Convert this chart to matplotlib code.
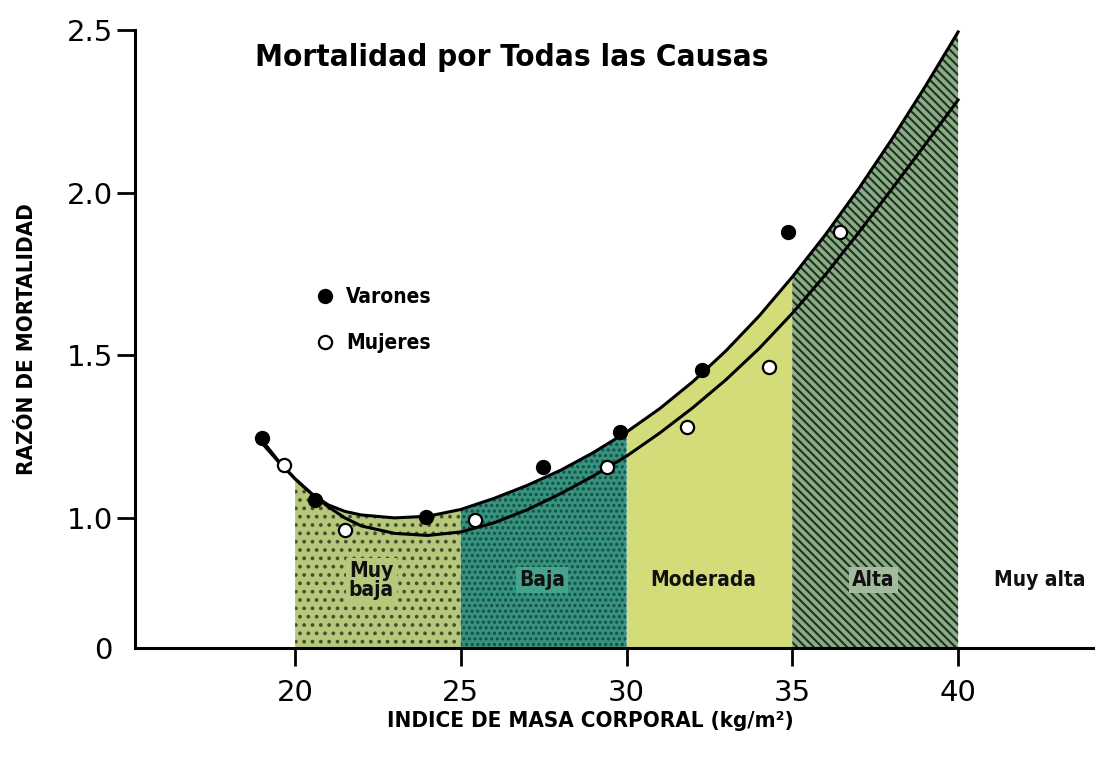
import numpy as np
import matplotlib
matplotlib.use("Agg")
import matplotlib.pyplot as plt

plt.rcParams['font.family'] = ['Liberation Sans Narrow', 'DejaVu Sans']
plt.rcParams['font.stretch'] = 'condensed'
plt.rcParams['hatch.linewidth'] = 1.5

# puntos observados
varones_x = [19.0, 20.6, 23.95, 27.48, 29.8, 32.27, 34.88]
varones_y = [1.245, 1.055, 1.004, 1.157, 1.265, 1.456, 1.878]
mujeres_x = [19.65, 21.5, 25.43, 29.4, 31.82, 34.3, 36.44]
mujeres_y = [1.163, 0.908, 0.985, 1.156, 1.28, 1.463, 1.878]

# curvas ajustadas
curva_x = [19.0, 19.5, 20, 20.5, 21, 21.5, 22, 23, 24, 25, 26, 27, 28, 29, 30,
           31, 32, 33, 34, 35, 36, 37, 38, 39, 40]
curva_varones = [1.239, 1.175, 1.120, 1.074, 1.040, 1.020, 1.009, 1.000, 1.005,
                 1.026, 1.060, 1.100, 1.146, 1.201, 1.264, 1.336, 1.419, 1.514,
                 1.621, 1.741, 1.871, 2.012, 2.164, 2.325, 2.494]
curva_mujeres = [1.230, 1.172, 1.120, 1.074, 1.034, 1.000, 0.938, 0.881, 0.865,
                 0.892, 0.962, 1.025, 1.074, 1.129, 1.190, 1.261, 1.339, 1.425,
                 1.521, 1.629, 1.748, 1.877, 2.011, 2.147, 2.285]

# zonas de riesgo
zonas_lim = [20, 25, 30, 35, 40]
zonas_col = ['#b7c87c', '#36937f', '#d3dc79', '#8eab86']
zonas_hatch = ['..', '...', None, '\\\\\\\\']
zonas_hcol = ['#44522c', '#154f45', '#d3dc79', '#1a3323']
zonas_box = ['#b7c87c', '#45a38e', None, '#a3bb9c']
etiq_x = [22.3, 27.45, 32.3, 37.45, 42.45]
etiq_txt = ['Muy\nbaja', 'Baja', 'Moderada', 'Alta', 'Muy alta']


def fwd(y):
    y = np.asarray(y, dtype=float)
    return np.where(y < 1, 0.4 * y, y - 0.6)


def inv(f):
    f = np.asarray(f, dtype=float)
    return np.where(f < 0.4, f / 0.4, f + 0.6)


fig = plt.figure(figsize=(10.95, 7.59), dpi=100)
ax = fig.add_axes([135 / 1095, 1 - 648 / 759, 960 / 1095, 618 / 759])
ax.set_yscale('function', functions=(fwd, inv))

cx = np.array(curva_x)
cv = np.array(curva_varones)
for i in range(4):
    m = (cx >= zonas_lim[i]) & (cx <= zonas_lim[i + 1])
    ax.fill_between(cx[m], 0, cv[m], facecolor=zonas_col[i],
                    edgecolor=zonas_hcol[i], hatch=zonas_hatch[i],
                    linewidth=0, zorder=1)

ax.plot(curva_x, curva_varones, color='black', lw=2.2, zorder=3)
ax.plot(curva_x, curva_mujeres, color='black', lw=2.2, zorder=3)

ax.plot(varones_x, varones_y, 'o', ms=10, mfc='black', mec='black',
        ls='none', zorder=4, label='Varones')
ax.plot(mujeres_x, mujeres_y, 'o', ms=9.5, mfc='white', mec='black', mew=1.6,
        ls='none', zorder=4, label='Mujeres')

for i, (x, t) in enumerate(zip(etiq_x, etiq_txt)):
    bb = None
    if i < 4 and zonas_box[i] is not None:
        bb = dict(boxstyle='square,pad=0.15', fc=zonas_box[i], ec='none')
    ax.text(x, 0.52, t, ha='center', va='center', fontsize=15,
            fontweight='bold', color='#111111', linespacing=0.95, bbox=bb,
            zorder=5)

ax.text(0.393, 0.956, 'Mortalidad por Todas las Causas', transform=ax.transAxes,
        ha='center', va='center', fontsize=22.5, fontweight='bold')

leg = ax.legend(loc='center left', bbox_to_anchor=(315 / 1095, 1 - 320 / 759),
                bbox_transform=fig.transFigure, frameon=False, fontsize=15,
                handlelength=1.0, handletextpad=0.5, labelspacing=1.25,
                borderpad=0, borderaxespad=0)
for t in leg.get_texts():
    t.set_fontweight('bold')

ax.set_xlim(15.17, 44.13)
ax.set_ylim(0, 2.5)
ax.set_xticks([20, 25, 30, 35, 40])
ax.set_xticklabels(['20', '25', '30', '35', '40'], family='DejaVu Sans',
                   stretch='normal')
ax.set_yticks([0, 1.0, 1.5, 2.0, 2.5])
ax.set_yticklabels(['0', '1.0', '1.5', '2.0', '2.5'], family='DejaVu Sans',
                   stretch='normal')
ax.yaxis.get_major_ticks()[0].tick1line.set_visible(False)
ax.tick_params(axis='both', labelsize=21, length=13, width=2, direction='out')
ax.tick_params(axis='x', pad=9)
ax.tick_params(axis='y', pad=3)

for s in ['top', 'right']:
    ax.spines[s].set_visible(False)
for s in ['left', 'bottom']:
    ax.spines[s].set_linewidth(2.2)

ax.set_ylabel('RAZÓN DE MORTALIDAD', fontsize=16, fontweight='bold')
ax.yaxis.set_label_coords(-0.102, 0.5)
ax.set_xlabel('INDICE DE MASA CORPORAL (kg/m²)', fontsize=16, fontweight='bold')
ax.xaxis.set_label_coords(0.474, -0.102)

fig.savefig('out.png', dpi=100)
